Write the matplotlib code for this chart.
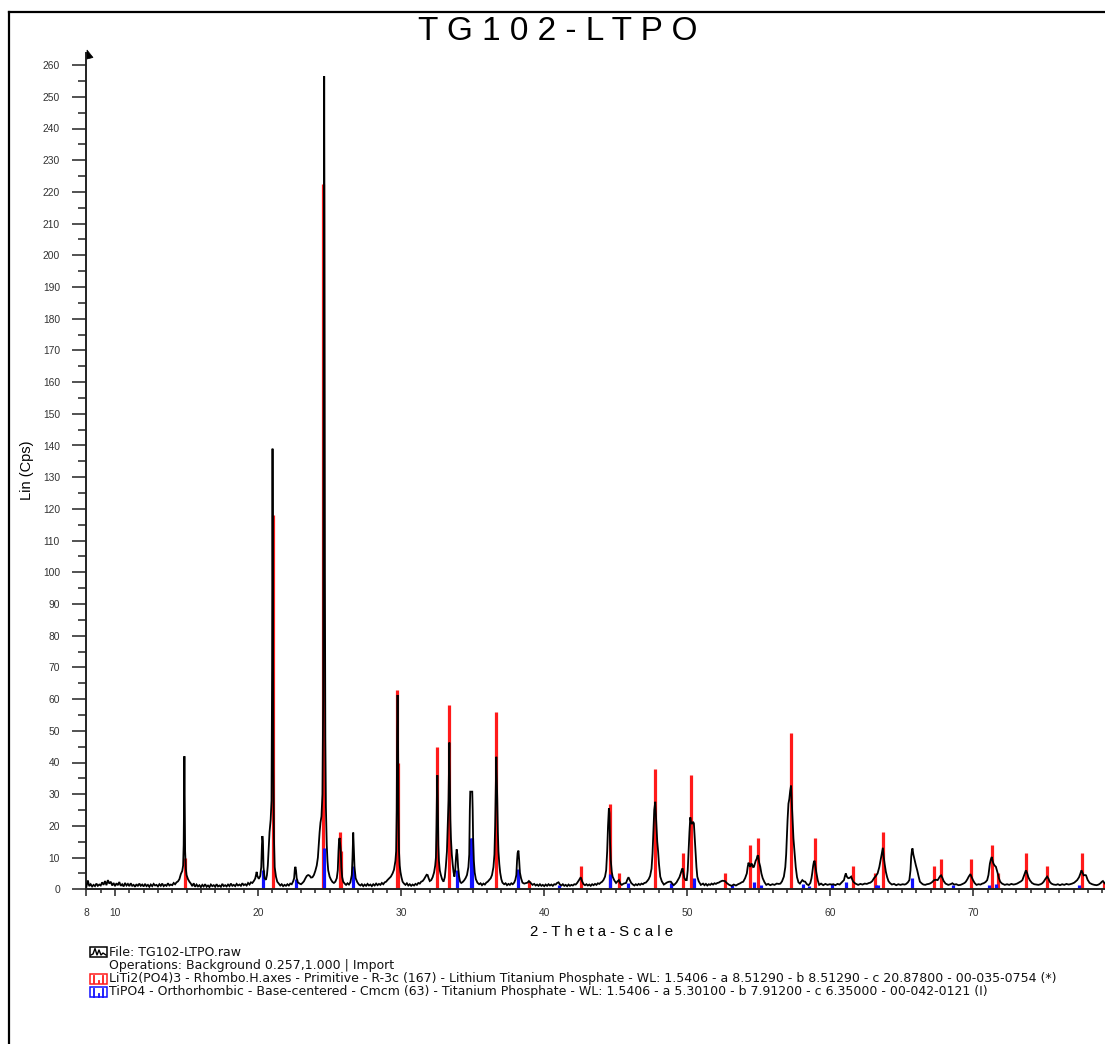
import matplotlib
matplotlib.use('Agg')
import matplotlib.pyplot as plt
from matplotlib.lines import Line2D
from matplotlib.patches import Rectangle, Polygon
from matplotlib.ticker import MultipleLocator, FixedLocator

plt.rcParams['font.family'] = ['Liberation Sans', 'DejaVu Sans']

# ---------------- data ----------------
two_theta = [
    8.0, 8.1, 8.2, 8.3, 8.4, 8.5, 8.6, 8.7, 8.8, 8.9, 9.0, 9.1, 9.2, 9.3, 9.4, 9.5, 9.6, 9.7, 9.8, 9.9,
    10.0, 10.1, 10.2, 10.3, 10.4, 10.5, 10.6, 10.7, 10.8, 10.9, 11.0, 11.1, 11.2, 11.3, 11.4, 11.5, 11.6,
    11.7, 11.8, 11.9, 12.0, 12.1, 12.2, 12.3, 12.4, 12.5, 12.6, 12.7, 12.8, 12.9, 13.0, 13.1, 13.2, 13.3,
    13.4, 13.5, 13.6, 13.7, 13.8, 13.9, 14.0, 14.1, 14.2, 14.3, 14.4,
    14.5, 14.6, 14.7, 14.76, 14.8, 14.83, 14.85, 14.87, 14.9, 14.95, 15.0, 15.1, 15.2, 15.3,
    15.4, 15.5, 15.6, 15.7, 15.8, 15.9, 16.0, 16.1, 16.2, 16.3, 16.4, 16.5, 16.6, 16.7, 16.8, 16.9, 17.0,
    17.1, 17.2, 17.3, 17.4, 17.5, 17.6, 17.7, 17.8, 17.9, 18.0, 18.1, 18.2, 18.3, 18.4, 18.5, 18.6, 18.7,
    18.8, 18.9, 19.0, 19.1, 19.2, 19.3, 19.4, 19.5, 19.6,
    19.7, 19.8, 19.9, 19.95, 20.05, 20.15, 20.22, 20.27, 20.3, 20.34, 20.38, 20.45, 20.55, 20.62, 20.68,
    20.74, 20.8, 20.88, 20.94, 20.98, 21.01, 21.04, 21.07, 21.11, 21.16, 21.25, 21.34,
    21.45, 21.55, 21.65, 21.75, 21.85, 21.95, 22.05, 22.15, 22.25, 22.35,
    22.45, 22.52, 22.57, 22.61, 22.65, 22.7, 22.78, 22.9, 23.0, 23.1, 23.2, 23.3, 23.4, 23.5, 23.6, 23.7,
    23.8, 23.9, 24.0, 24.1, 24.18, 24.25, 24.3, 24.36, 24.43, 24.5, 24.55, 24.59, 24.62, 24.64, 24.67,
    24.7, 24.74, 24.8, 24.85, 24.9, 25.0, 25.1, 25.2, 25.3, 25.4,
    25.5, 25.57, 25.62, 25.66, 25.7, 25.74, 25.78, 25.82, 25.88, 25.95, 26.05, 26.15, 26.25, 26.35, 26.45,
    26.55, 26.6, 26.65, 26.69, 26.74, 26.82, 26.94, 27.05, 27.15, 27.25, 27.35, 27.45, 27.55, 27.65, 27.75,
    27.85, 27.95, 28.05, 28.15, 28.25, 28.35, 28.45, 28.55, 28.65, 28.75, 28.85, 28.95, 29.04,
    29.15, 29.28, 29.4, 29.5, 29.6, 29.65, 29.69, 29.72, 29.75, 29.78, 29.81, 29.85, 29.9, 29.95, 30.02,
    30.1, 30.2, 30.3, 30.4, 30.5, 30.6, 30.7, 30.8, 30.9, 31.0, 31.1, 31.2, 31.3, 31.4, 31.5, 31.6,
    31.7, 31.78, 31.85, 31.92, 32.0, 32.1, 32.2, 32.3, 32.38, 32.43, 32.47, 32.5, 32.53, 32.56, 32.6, 32.64,
    32.7, 32.77, 32.86, 32.96, 33.05, 33.12, 33.2, 33.25, 33.31, 33.35, 33.37, 33.4, 33.44, 33.48, 33.54,
    33.6, 33.66, 33.72, 33.78, 33.83, 33.88, 33.93, 33.98, 34.05, 34.12, 34.2, 34.3, 34.4, 34.5, 34.6, 34.7,
    34.76, 34.8, 34.83, 34.97, 35.0, 35.03, 35.08, 35.14, 35.22, 35.33, 35.45,
    35.55, 35.65, 35.75, 35.85, 35.95, 36.05, 36.15, 36.26, 36.35, 36.45, 36.52, 36.57, 36.61, 36.65, 36.68,
    36.72, 36.76, 36.8, 36.86, 36.92, 37.0, 37.08, 37.2, 37.3, 37.4, 37.5, 37.6, 37.7, 37.8, 37.9, 37.98,
    38.05, 38.1, 38.14, 38.2, 38.25, 38.3, 38.38, 38.48, 38.6, 38.75, 38.83, 38.93, 39.05, 39.18, 39.3, 39.4,
    39.5, 39.6,
    39.7, 39.8, 39.9, 40.0, 40.1, 40.2, 40.3, 40.4, 40.5, 40.6, 40.7, 40.8, 40.9, 41.0, 41.1, 41.2, 41.3,
    41.4, 41.5, 41.6, 41.7, 41.8, 41.9, 42.0, 42.1, 42.2, 42.3, 42.43, 42.55, 42.65, 42.75, 42.85, 42.95,
    43.05, 43.15, 43.25, 43.35, 43.45, 43.55, 43.65, 43.75, 43.85, 43.95, 44.05, 44.15, 44.25,
    44.33, 44.4, 44.46, 44.52, 44.56, 44.6, 44.65, 44.72, 44.78, 44.9, 45.02, 45.12, 45.22, 45.32, 45.42,
    45.55, 45.72, 45.82, 45.89, 45.97, 46.08, 46.2, 46.3, 46.4, 46.5, 46.6, 46.7, 46.8, 46.9, 47.0, 47.1,
    47.2, 47.3, 47.4,
    47.5, 47.57, 47.63, 47.69, 47.76, 47.8, 47.85, 47.9, 47.96, 48.02, 48.11, 48.22, 48.36, 48.5, 48.6,
    48.73, 48.85, 48.95, 49.05, 49.15, 49.25, 49.34, 49.45, 49.54, 49.62, 49.67, 49.73, 49.79, 49.88, 49.96,
    50.03, 50.09, 50.15, 50.21, 50.27, 50.33, 50.4, 50.46, 50.52, 50.58, 50.64, 50.7, 50.8, 50.95,
    51.1, 51.2, 51.3, 51.4, 51.5, 51.6, 51.7, 51.8, 51.9, 52.0, 52.1, 52.2, 52.3, 52.45, 52.63, 52.78, 52.93,
    53.1, 53.25, 53.4, 53.55, 53.7, 53.8, 53.91, 54.04, 54.16, 54.22, 54.28, 54.35, 54.41, 54.47, 54.53,
    54.6, 54.66, 54.72, 54.78, 54.85, 54.9, 54.95, 55.02, 55.1, 55.18, 55.27, 55.4, 55.52, 55.65, 55.8,
    55.95, 56.1, 56.25, 56.4, 56.51, 56.62, 56.75,
    56.85, 56.91, 56.95, 57.01, 57.07, 57.13, 57.19, 57.25, 57.3, 57.35, 57.42, 57.5, 57.58, 57.67, 57.77,
    57.87, 57.96, 58.04, 58.14, 58.24, 58.36, 58.48, 58.6, 58.68, 58.73, 58.8, 58.85, 58.9, 58.96, 59.03,
    59.12, 59.22, 59.35, 59.5,
    59.65, 59.8, 59.96, 60.1, 60.21, 60.35, 60.5, 60.65, 60.8, 60.95, 61.02, 61.08, 61.15, 61.25, 61.35,
    61.45, 61.52, 61.6, 61.75, 61.94, 62.1, 62.25, 62.4, 62.55, 62.7, 62.8, 62.93, 63.05, 63.18, 63.3, 63.42,
    63.55, 63.62, 63.67, 63.72, 63.79, 63.88, 63.97, 64.06, 64.16, 64.3, 64.45, 64.6, 64.75, 64.9, 65.05,
    65.2, 65.3, 65.42, 65.52,
    65.6, 65.65, 65.7, 65.74, 65.8, 65.89, 65.98, 66.07, 66.17, 66.26, 66.4, 66.5, 66.63, 66.75, 66.88,
    67.0, 67.12, 67.25, 67.38, 67.5, 67.6, 67.68, 67.74, 67.83, 67.92, 68.05, 68.24, 68.4, 68.53, 68.65,
    68.8, 68.95, 69.1, 69.25, 69.38, 69.47, 69.58, 69.67, 69.79, 69.88, 69.97, 70.08, 70.21, 70.35, 70.5,
    70.62, 70.71, 70.85, 70.96, 71.05, 71.15, 71.22, 71.28, 71.34, 71.4, 71.48, 71.57, 71.64, 71.7, 71.78,
    71.87, 72.0, 72.19, 72.35, 72.5, 72.65, 72.8, 72.92, 73.05, 73.2, 73.32, 73.42, 73.55, 73.67, 73.76,
    73.84, 73.95, 74.09, 74.25, 74.4, 74.54, 74.7, 74.81, 74.91, 75.02, 75.15, 75.24, 75.33, 75.45, 75.6,
    75.77, 75.9, 76.05, 76.2, 76.35, 76.5, 76.65, 76.76, 76.9, 77.05, 77.15, 77.25, 77.38, 77.48, 77.55,
    77.63, 77.7, 77.8, 77.87, 77.98, 78.12, 78.3, 78.45, 78.61, 78.75, 78.88, 78.98, 79.05, 79.12, 79.2,
]

counts = [
    0.8, 2.8, 1.0, 1.6, 0.9, 1.4, 1.0, 1.8, 1.1, 1.5, 1.2, 2.2, 1.4, 2.6, 1.3, 2.9, 1.8, 2.4, 1.2, 2.0,
    1.0, 1.9, 1.3, 2.3, 1.1, 1.6, 0.9, 2.0, 1.2, 1.7, 1.0, 1.9, 1.1, 1.4, 0.8, 1.6, 1.0,
    1.8, 1.1, 1.5, 0.9, 1.7, 1.0, 1.4, 0.8, 1.5, 1.0, 1.7, 1.2, 1.4, 0.9, 1.6, 1.1, 1.8,
    1.0, 1.4, 1.1, 1.9, 1.2, 1.5, 1.3, 2.0, 1.6, 2.2, 2.5,
    3.2, 4.8, 5.8, 7.5, 14, 30, 42, 28, 12, 6.5, 4.5, 3.2, 2.4, 1.8,
    1.0, 1.9, 0.8, 1.5, 0.9, 1.3, 0.7, 1.4, 0.9, 1.6, 0.8, 1.2, 0.7, 1.5, 1.0, 1.3, 0.8,
    1.6, 0.9, 1.2, 0.8, 1.7, 1.0, 1.3, 0.9, 1.5, 1.0, 1.8, 1.1, 1.4, 1.0, 1.7, 1.2, 1.5,
    1.1, 1.9, 1.3, 1.6, 1.2, 2.0, 1.5, 2.2, 2.0,
    2.6, 3.4, 5.5, 4.2, 3.3, 4.2, 7, 14, 16.8, 15, 7, 3.5, 3.0, 4.5, 7.5,
    13, 18, 22, 28, 70, 139, 85, 38, 16, 7, 4, 2.4,
    1.8, 1.2, 1.6, 1.0, 1.4, 1.1, 1.6, 1.2, 1.8, 1.6,
    2.5, 3.5, 6.5, 7.1, 6.0, 3.5, 2.2, 1.8, 1.6, 2.0, 2.5, 3.4, 4.2, 4.5, 4.3, 3.7,
    3.8, 4.5, 5.8, 7.5, 10, 14.5, 18, 21, 23, 30, 60, 170, 256.5, 210, 100,
    48, 26, 14, 9, 6, 4, 3, 2.3, 2.0, 2.4,
    3.5, 6, 12, 15.6, 16.2, 14, 12, 7, 3.8, 2.4, 1.8, 1.4, 1.9, 1.5, 2.2,
    4.5, 10, 17.9, 13, 6.9, 3.5, 2.2, 1.5, 1.2, 1.6, 1.0, 1.5, 1.1, 1.7, 1.2,
    1.5, 1.0, 1.6, 1.2, 1.8, 1.3, 1.7, 1.4, 2.0, 1.6, 2.2, 2.4, 2.9,
    3.4, 4, 5, 6.2, 9, 12, 25, 50, 61.3, 50, 25, 12, 7.5, 5.5, 3.8,
    2.4, 1.8, 1.4, 1.9, 1.2, 1.6, 1.1, 1.5, 1.2, 1.7, 1.4, 2.0, 1.8, 2.4, 2.6, 3.2,
    4.0, 4.6, 4.5, 3.5, 2.6, 2.9, 3.8, 5.3, 7.5, 10, 20, 30, 36, 28, 14, 9,
    6, 4.6, 3.2, 2.4, 3.8, 7, 12, 19.6, 28, 40, 46.3, 36, 22, 16, 11,
    8, 5.5, 4.0, 6, 10, 12.6, 11, 7, 4, 2.4, 2.0, 2.3, 2.8, 3.5, 4.5, 7,
    11, 25, 30.8, 30.8, 25, 15.6, 9, 5.3, 3.2, 2.1, 1.6,
    1.9, 1.3, 1.8, 1.5, 2.1, 2.4, 2.9, 3.5, 4.5, 7, 11, 20, 30, 41.8, 36,
    28, 18, 12, 8, 5.3, 3.2, 2.1, 1.6, 1.9, 1.3, 1.7, 1.4, 1.9, 1.6, 2.1, 3.0,
    4.5, 9, 11.5, 12.2, 9, 5.3, 3.5, 2.1, 1.8, 2.0, 2.1, 2.6, 2.0, 1.4, 1.7, 1.2,
    1.5, 1.1,
    1.6, 1.1, 1.4, 1.0, 1.5, 1.1, 1.6, 1.2, 1.5, 1.1, 1.6, 1.5, 2.0, 2.2, 1.5, 1.2, 1.6,
    1.1, 1.4, 1.0, 1.5, 1.1, 1.4, 1.2, 1.6, 1.5, 2.0, 2.9, 3.8, 2.5, 1.6, 1.3, 1.6,
    1.2, 1.5, 1.1, 1.6, 1.3, 1.7, 1.4, 1.9, 1.7, 2.1, 2.4, 3.0, 4.0,
    6, 12, 20, 25.5, 24, 15, 9.2, 5.5, 4, 2.8, 2.0, 2.5, 2.9, 1.8, 1.4,
    1.8, 2.0, 3.2, 3.8, 3.0, 2.0, 1.5, 1.2, 1.6, 1.3, 1.7, 1.4, 1.8, 1.6, 2.0, 2.1,
    2.6, 3.2, 4.2,
    6.5, 11.3, 18, 25, 27.6, 24, 19, 15, 12, 8, 4.0, 2.5, 1.5, 1.9, 2.2,
    2.4, 2.4, 1.8, 1.3, 1.7, 2.2, 2.9, 3.8, 5.0, 6.2, 6.6, 5.0, 3.6, 2.9, 2.9,
    6, 12.4, 18, 22.7, 21, 20.6, 21.3, 20.8, 16, 11.3, 7, 4.0, 2.5, 1.4,
    1.8, 1.3, 1.7, 1.2, 1.6, 1.4, 1.8, 1.5, 1.9, 1.7, 2.0, 2.1, 2.4, 2.7, 2.6, 1.9, 1.4,
    1.1, 1.5, 1.2, 1.6, 1.9, 2.2, 2.4, 3.5, 5.0, 7, 8.4, 7.5, 7.1, 8, 7.9,
    7, 7.1, 8, 9, 9.6, 10.5, 10.7, 8.5, 7.1, 5, 3.5, 2.2, 1.4, 1.7, 1.3,
    1.6, 1.4, 1.8, 1.7, 1.8, 2.5, 4.0,
    7, 11, 15.6, 22, 27, 28.5, 31, 32.7, 28, 22.9, 16, 11.3, 7, 3.8, 2.2,
    1.8, 2.4, 2.9, 2.5, 2.4, 1.6, 1.3, 2.0, 3.5, 5.0, 7.5, 8.7, 9.0, 7, 5.0,
    2.8, 1.4, 1.8, 1.3,
    1.7, 1.4, 1.6, 1.5, 1.6, 1.3, 1.7, 1.5, 2.2, 2.9, 4.2, 5.0, 4.0, 3.5, 3.6,
    4.0, 3.2, 2.4, 1.8, 1.4, 1.7, 1.5, 1.8, 1.7, 2.0, 2.1, 2.6, 3.5, 4.2, 5.0, 7,
    10.2, 12, 13.1, 10.5, 8.1, 5.5, 3.8, 2.6, 2.0, 1.5, 1.7, 1.3, 1.6, 1.4, 1.6,
    1.5, 1.7, 2.2, 2.9,
    6, 10.2, 12.2, 12.9, 11, 9.2, 7.5, 6.0, 4, 2.4, 1.8, 1.5, 1.4, 1.6, 1.7,
    1.9, 2.3, 2.9, 3.0, 2.9, 3.6, 4.2, 4.4, 3.6, 2.6, 1.8, 1.4, 1.6, 1.9, 1.5,
    1.6, 1.3, 1.4, 1.7, 2.0, 2.4, 3.2, 4.0, 4.8, 3.8, 2.9, 2.0, 1.4, 1.6, 1.5,
    1.8, 1.9, 2.3, 2.9, 4.5, 8.1, 9.5, 10.2, 9, 8.1, 7.5, 7.1, 6, 5.0, 3.5,
    2.4, 1.8, 1.4, 1.6, 1.4, 1.7, 1.5, 1.6, 1.8, 2.2, 2.5, 2.9, 4.5, 6.0, 5.0,
    3.8, 2.8, 2.0, 1.6, 1.5, 1.4, 1.6, 1.9, 2.4, 3.2, 4.0, 3.4, 2.4, 1.8, 1.5,
    1.4, 1.6, 1.3, 1.6, 1.4, 1.7, 1.5, 1.6, 1.8, 2.1, 2.5, 2.9, 3.8, 5, 6.0,
    5.2, 4.4, 4.5, 4.4, 3.0, 2.0, 1.6, 1.4, 1.3, 1.5, 1.9, 2.4, 2.6, 2.2, 1.8,
]

# LiTi2(PO4)3  00-035-0754 (red sticks)
ltp_pos = [14.89, 21.02, 24.57, 25.70, 25.79, 29.72, 29.80, 32.53, 33.37, 36.66, 38.94, 42.55,
           44.58, 45.22, 47.76, 49.67, 50.26, 52.63, 54.36, 54.95, 57.25, 58.90, 61.57, 63.13,
           63.67, 67.25, 67.76, 69.81, 71.30, 71.72, 73.70, 75.17, 77.58, 79.15]
ltp_int = [10.0, 118.0, 222.5, 18.2, 12.0, 62.9, 40.0, 44.9, 58.1, 55.9, 2.6, 7.3,
           26.9, 5.0, 37.9, 11.6, 36.2, 5.0, 14.0, 16.1, 49.4, 16.1, 7.3, 5.0,
           18.2, 7.2, 9.5, 9.5, 13.9, 5.0, 11.6, 7.2, 11.6, 2.2]

# TiPO4  00-042-0121 (blue sticks)
tipo_pos = [20.37, 22.65, 24.64, 26.66, 33.93, 34.88, 34.95, 38.20, 41.00, 44.58, 45.89, 48.85,
            50.48, 53.10, 54.68, 55.17, 58.11, 58.53, 60.14, 61.08, 63.17, 63.30, 65.74, 68.55,
            71.10, 71.55, 77.35]
tipo_int = [6.0, 3.2, 13.0, 7.3, 6.1, 16.3, 16.3, 6.4, 1.5, 4.8, 2.0, 2.0,
            3.7, 1.5, 2.4, 1.5, 1.6, 1.0, 1.6, 2.4, 1.5, 1.5, 3.7, 1.5,
            1.5, 1.8, 1.5]

x_major = [8, 10, 20, 30, 40, 50, 60, 70]
title_text = "T G 1 0 2 - L T P O"
xlabel_text = "2 - T h e t a - S c a l e"
ylabel_text = "Lin (Cps)"
legend_lines = [
    "File: TG102-LTPO.raw",
    "Operations: Background 0.257,1.000 | Import",
    "LiTi2(PO4)3 - Rhombo.H.axes - Primitive - R-3c (167) - Lithium Titanium Phosphate - WL: 1.5406 - a 8.51290 - b 8.51290 - c 20.87800 - 00-035-0754 (*)",
    "TiPO4 - Orthorhombic - Base-centered - Cmcm (63) - Titanium Phosphate - WL: 1.5406 - a 5.30100 - b 7.91200 - c 6.35000 - 00-042-0121 (I)",
]

# ---------------- figure ----------------
W, H = 1105, 1044
fig = plt.figure(figsize=(W / 100, H / 100), dpi=100)
fig.patch.set_facecolor('white')

def fx(px):
    return px / W

def fy(py):
    return 1 - py / H

ax_left, ax_bottom_px, ax_top_px = 86.4, 889.3, 53.0
ax = fig.add_axes([fx(ax_left), fy(ax_bottom_px), 1 - fx(ax_left), (ax_bottom_px - ax_top_px) / H])
px_per_deg = 14.307
ax.set_xlim(8, 8 + (W - ax_left) / px_per_deg)
ax.set_ylim(0, (ax_bottom_px - ax_top_px) / 3.17)

ax.vlines(ltp_pos, 0, ltp_int, colors='#ff1a1a', linewidth=2.3, zorder=2)
ax.vlines(tipo_pos, 0, tipo_int, colors='#1010ff', linewidth=2.3, zorder=2)
ax.plot(two_theta, counts, color='black', linewidth=1.3, zorder=3, solid_joinstyle='miter')

for s in ['top', 'right']:
    ax.spines[s].set_visible(False)
for s in ['left', 'bottom']:
    ax.spines[s].set_color('#222222')
    ax.spines[s].set_linewidth(1.4)

ax.yaxis.set_major_locator(MultipleLocator(10))
ax.yaxis.set_minor_locator(MultipleLocator(5))
ax.xaxis.set_major_locator(FixedLocator(x_major))
ax.xaxis.set_minor_locator(MultipleLocator(1))
ax.tick_params(axis='y', which='major', direction='out', length=10, width=1.1, color='#222222',
               pad=9, labelsize=7.4, labelcolor='#333333')
ax.tick_params(axis='y', which='minor', direction='out', length=5.5, width=1.1, color='#222222')
ax.tick_params(axis='x', which='major', direction='out', length=5, width=1.1, color='#222222',
               pad=8.5, labelsize=7.4, labelcolor='#333333')
ax.tick_params(axis='x', which='minor', direction='out', length=2.8, width=1.1, color='#222222')

# arrow head at top of y axis
fig.patches.append(Polygon([[fx(87.0), fy(50)], [fx(87.0), fy(59)], [fx(93.0), fy(57.5)]],
                           closed=True, transform=fig.transFigure, facecolor='black',
                           edgecolor='black', linewidth=0.5))

# frame around the whole figure (left and top visible)
fig.lines.append(Line2D([fx(8.5), fx(8.5)], [fy(12.3), -0.05], transform=fig.transFigure,
                        color='black', linewidth=1.6))
fig.lines.append(Line2D([fx(8.5), 1.05], [fy(12.3), fy(12.3)], transform=fig.transFigure,
                        color='black', linewidth=1.6))

fig.text(fx(558), fy(32), title_text, ha='center', va='center', fontsize=24, color='black')
fig.text(fx(602), fy(932), xlabel_text, ha='center', va='center', fontsize=10.8, color='black')
fig.text(fx(27), fy(470), ylabel_text, ha='center', va='center', rotation=90, fontsize=10.5,
         color='black')

# legend block
leg_font = ['DejaVu Sans']
leg_y = [952, 965.5, 978.5, 992]
for txt, yy in zip(legend_lines, leg_y):
    fig.text(fx(109), fy(yy), txt, ha='left', va='center', fontsize=9.0, family=leg_font,
             color='#111111')

def icon_box(y_center, color):
    x0, x1 = 90, 107
    y0, y1 = y_center - 5, y_center + 5
    fig.patches.append(Rectangle((fx(x0), fy(y1)), fx(x1) - fx(x0), fy(y0) - fy(y1),
                                 transform=fig.transFigure, fill=False, edgecolor=color,
                                 linewidth=1.1))
    return x0, x1, y0, y1

# black pattern icon
x0, x1, y0, y1 = icon_box(952, 'black')
fig.lines.append(Line2D([fx(91), fx(93), fx(95), fx(97), fx(99), fx(101), fx(103), fx(106)],
                        [fy(955), fy(954), fy(948.5), fy(955), fy(950), fy(955), fy(953), fy(955)],
                        transform=fig.transFigure, color='black', linewidth=1.0))
# stick icons
for yc, col in [(978.5, '#ff1a1a'), (992, '#1010ff')]:
    x0, x1, y0, y1 = icon_box(yc, col)
    for xb, top in [(94, y0 + 2), (98.5, y1 - 3), (103, y0 + 2)]:
        fig.lines.append(Line2D([fx(xb), fx(xb)], [fy(y1 - 0.5), fy(top)], transform=fig.transFigure,
                                color=col, linewidth=1.3))

fig.savefig('out.png', dpi=100, facecolor='white')
